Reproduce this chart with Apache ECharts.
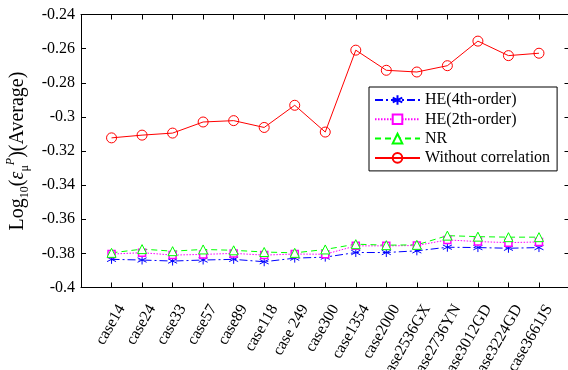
<!DOCTYPE html>
<html>
<head>
<meta charset="utf-8">
<script src="https://cdn.jsdelivr.net/npm/echarts@6/dist/echarts.min.js"></script>
<style>
html,body{margin:0;padding:0;background:#fff;}
#chart{width:568px;height:370px;}
</style>
</head>
<body>
<div id="chart"></div>
<script>
const cases = ['case14','case24','case33','case57','case89','case118','case 249','case300','case1354','case2000','case2536GX','case2736YN','case3012GD','case3224GD','case3661JS'];
const he4 = [-0.3835,-0.3839,-0.3845,-0.3839,-0.3835,-0.3849,-0.3828,-0.3822,-0.3795,-0.3795,-0.3785,-0.3764,-0.3766,-0.3770,-0.3766];
const he2 = [-0.3804,-0.3796,-0.3810,-0.3806,-0.3800,-0.3810,-0.3804,-0.3805,-0.3756,-0.3756,-0.3754,-0.3721,-0.3731,-0.3737,-0.3733];
const nr  = [-0.3797,-0.3775,-0.3787,-0.3777,-0.3782,-0.3792,-0.3797,-0.3777,-0.3746,-0.3752,-0.3750,-0.3696,-0.3702,-0.3705,-0.3705];
const woc = [-0.3123,-0.3107,-0.3095,-0.3030,-0.3022,-0.3062,-0.2932,-0.3089,-0.2609,-0.2727,-0.2737,-0.2700,-0.2556,-0.2641,-0.2627];
const yTicks = {min:-0.4, max:-0.24, interval:0.02};

const FONT = 'Liberation Serif';
const cats = [''].concat(cases, ['']);
const pad = a => [null].concat(a, [null]);

const chart = echarts.init(document.getElementById('chart'), null, {renderer:'canvas'});
const axisLine = {show:true, lineStyle:{color:'#000', width:1}};
const starPath = 'path://M0,-10L0,10M-8.66,-5L8.66,5M-8.66,5L8.66,-5';
const option = {
  animation:false,
  backgroundColor:'#fff',
  grid:{left:81, right:-1.5, top:14.5, bottom:82.5, containLabel:false, outerBoundsMode:'none'},
  legend:{
    orient:'vertical', left:369, top:87,
    backgroundColor:'#fff', borderColor:'#000', borderWidth:1, borderRadius:0,
    padding:[5,7,5,5], itemWidth:45, itemHeight:12, itemGap:3.3,
    textStyle:{fontFamily:FONT, fontSize:16, color:'#000', lineHeight:16},
    data:['HE(4th-order)','HE(2th-order)','NR','Without correlation']
  },
  xAxis:[{
    type:'category', data:cats, boundaryGap:false, position:'bottom',
    axisLine:axisLine, axisTick:{show:true, inside:true, length:5, alignWithLabel:true, interval:0, lineStyle:{color:'#000'}},
    axisLabel:{interval:0, rotate:60, fontFamily:FONT, fontSize:16, color:'#000', margin:8,
               verticalAlign:'top', padding:[6,4,0,0]},
    splitLine:{show:false}
  },{
    type:'category', data:cats, boundaryGap:false, position:'top',
    axisLine:axisLine, axisTick:{show:true, inside:true, length:5, interval:0, lineStyle:{color:'#000'}},
    axisLabel:{show:false}, splitLine:{show:false}
  }],
  yAxis:[{
    type:'value', min:yTicks.min, max:yTicks.max, interval:yTicks.interval, position:'left',
    axisLine:axisLine, axisTick:{show:true, inside:true, length:5, lineStyle:{color:'#000'}},
    axisLabel:{fontFamily:FONT, fontSize:16, color:'#000', margin:6},
    splitLine:{show:false},
    name:'{n|Log}{s|10}{n|(}{e|ε}{s|μ}{p|P}{n|)(Average)}',
    nameLocation:'middle', nameGap:50,
    nameTextStyle:{
      color:'#000', fontFamily:FONT, fontSize:20, padding:[0,0,0,0],
      rich:{
        n:{fontFamily:FONT, fontSize:20, color:'#000', lineHeight:26, verticalAlign:'middle'},
        e:{fontFamily:FONT, fontSize:20, fontStyle:'italic', color:'#000', lineHeight:26},
        s:{fontFamily:FONT, fontSize:12, color:'#000', lineHeight:26, verticalAlign:'bottom'},
        p:{fontFamily:FONT, fontSize:12, fontStyle:'italic', color:'#000', lineHeight:26, verticalAlign:'top'}
      }
    }
  },{
    type:'value', min:yTicks.min, max:yTicks.max, interval:yTicks.interval, position:'right',
    axisLine:axisLine, axisTick:{show:true, inside:true, length:5, lineStyle:{color:'#000'}},
    axisLabel:{show:false}, splitLine:{show:false}
  }],
  series:[
    {name:'HE(4th-order)', type:'line', data:pad(he4), symbol:starPath, symbolSize:9,
     itemStyle:{color:'#0000ff', borderColor:'#0000ff', borderWidth:1},
     lineStyle:{color:'#0000ff', width:1, type:[8,3,2,3]}},
    {name:'HE(2th-order)', type:'line', data:pad(he2), symbol:'rect', symbolSize:7,
     itemStyle:{color:'#fff', borderColor:'#ff00ff', borderWidth:1.5},
     lineStyle:{color:'#ff00ff', width:1, type:[1.5,1.5]}},
    {name:'NR', type:'line', data:pad(nr), symbol:'triangle', symbolSize:9,
     itemStyle:{color:'#fff', borderColor:'#00ff00', borderWidth:1},
     lineStyle:{color:'#00ff00', width:1, type:[6,4]}},
    {name:'Without correlation', type:'line', data:pad(woc), symbol:'circle', symbolSize:10,
     itemStyle:{color:'transparent', borderColor:'#ff0000', borderWidth:1},
     lineStyle:{color:'#ff0000', width:1}}
  ]
};
chart.setOption(option);
</script>
</body>
</html>
